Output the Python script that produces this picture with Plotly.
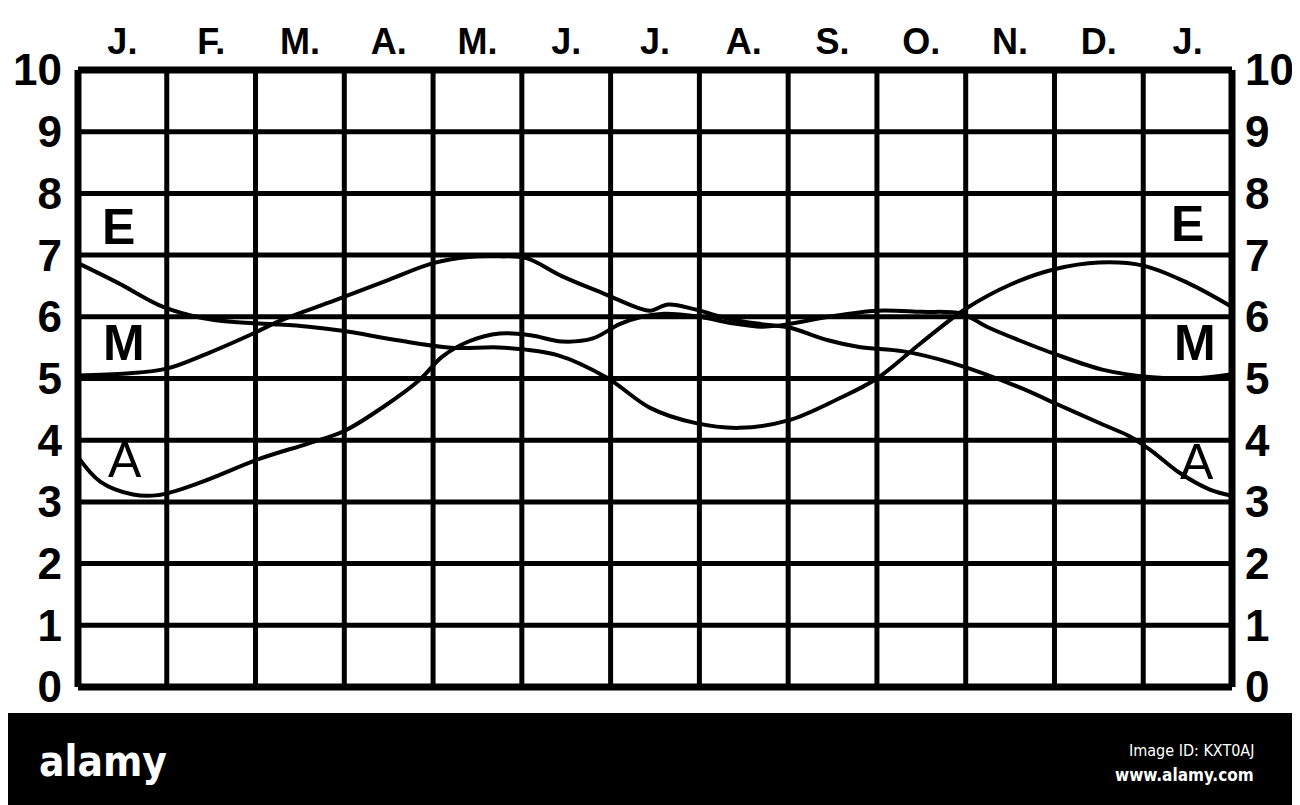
import plotly.graph_objects as go

# ---- data (x in month-columns from the left edge, y on the 0-10 scale) ----
months = ["J.", "F.", "M.", "A.", "M.", "J.", "J.", "A.", "S.", "O.", "N.", "D.", "J."]
month_pos = [i + 0.5 for i in range(len(months))]
y_ticks = list(range(0, 11))

e_x = [0, 0.45, 0.96, 1.4, 1.8, 2.2, 2.6, 3.0, 3.6, 4.2, 4.8, 5.4, 5.95, 6.45, 6.95, 7.45,
       8.0, 8.55, 9.0, 9.5, 10.0, 10.5, 11.0, 11.5, 12.0, 12.5, 13.0]
e_y = [6.87, 6.55, 6.16, 5.98, 5.91, 5.88, 5.84, 5.77, 5.62, 5.5, 5.5, 5.38, 5.02, 4.52, 4.28, 4.2,
       4.32, 4.66, 5.0, 5.58, 6.13, 6.52, 6.77, 6.88, 6.83, 6.55, 6.16]

m_x = [0, 0.55, 1.0, 1.45, 1.9, 2.3, 2.9, 3.5, 4.0, 4.4, 4.75, 5.05, 5.45, 5.95, 6.3, 6.45,
       6.65, 6.95, 7.35, 7.7, 8.0, 8.45, 8.8, 9.3, 9.85, 10.6, 11.05, 11.55, 11.85, 12.1,
       12.4, 12.75, 13.0]
m_y = [5.05, 5.08, 5.16, 5.4, 5.68, 5.95, 6.27, 6.6, 6.87, 6.97, 6.98, 6.95, 6.66, 6.36, 6.15, 6.1,
       6.2, 6.12, 5.96, 5.88, 5.83, 5.62, 5.51, 5.44, 5.25, 4.86, 4.57, 4.25, 4.06, 3.82,
       3.48, 3.2, 3.1]

a_x = [0, 0.25, 0.62, 0.9, 1.35, 2.05, 2.6, 3.0, 3.45, 3.85, 4.1, 4.4, 4.75, 5.1, 5.45, 5.8,
       6.1, 6.35, 6.6, 7.0, 7.35, 7.7, 8.0, 8.45, 9.0, 9.5, 9.95, 10.25, 10.6, 11.0, 11.55,
       12.1, 12.55, 13.0]
a_y = [3.73, 3.33, 3.12, 3.11, 3.3, 3.7, 3.95, 4.15, 4.55, 4.98, 5.35, 5.6, 5.73, 5.7, 5.6, 5.65,
       5.88, 6.0, 6.05, 6.0, 5.9, 5.84, 5.88, 6.0, 6.1, 6.08, 6.05, 5.83, 5.62, 5.4, 5.14,
       5.02, 5.0, 5.07]

curve_labels = ["E", "M", "A", "E", "M", "A"]
curve_label_x = [0.46, 0.52, 0.53, 12.5, 12.58, 12.6]
curve_label_y = [7.46, 5.58, 3.68, 7.5, 5.58, 3.64]

n_cols = 13
n_rows = 10

# ---- layout geometry (page has an 8px body margin, so figure is 8px smaller) ----
OFF = 8
W, H = 1300 - OFF, 805 - OFF
L, R, T, B = 62, 60, 54, 110
x_range = [-0.09, 13.09]
y_range = [-0.13, 10.13]

fig = go.Figure()

for xs, ys in [(e_x, e_y), (m_x, m_y), (a_x, a_y)]:
    fig.add_trace(go.Scatter(x=xs, y=ys, mode="lines",
                             line=dict(color="black", width=4, shape="spline", smoothing=1.0),
                             showlegend=False, hoverinfo="skip"))

# invisible trace to activate the right-hand axis
fig.add_trace(go.Scatter(x=[0], y=[0], yaxis="y2", mode="markers",
                         marker=dict(opacity=0), showlegend=False, hoverinfo="skip"))

shapes = []
for r in range(n_rows + 1):
    w = 7 if r in (0, n_rows) else 5
    shapes.append(dict(type="line", xref="x", yref="y", x0=0, x1=n_cols, y0=r, y1=r,
                       line=dict(color="black", width=w), layer="below"))
for c in range(n_cols + 1):
    w = 7 if c in (0, n_cols) else 5
    shapes.append(dict(type="line", xref="x", yref="y", x0=c, x1=c, y0=0, y1=n_rows,
                       line=dict(color="black", width=w), layer="below"))

plot_w = W - L - R
plot_h = H - T - B
def px_x(x):
    return (x - OFF - L) / plot_w
def px_y(y):
    return (H - B - (y - OFF)) / plot_h

# black footer band
shapes.append(dict(type="rect", xref="paper", yref="paper",
                   x0=px_x(0), x1=px_x(1310), y0=px_y(713), y1=px_y(812),
                   fillcolor="black", line=dict(width=0)))

annotations = []
for t, x, y in zip(curve_labels, curve_label_x, curve_label_y):
    annotations.append(dict(x=x, y=y, xref="x", yref="y", text=t, showarrow=False,
                            font=dict(family="Liberation Sans, Arial, sans-serif", size=50,
                                      color="black", weight="bold" if t != "A" else "normal"),
                            xanchor="center", yanchor="middle"))

narrow = "Liberation Sans Narrow, DejaVu Sans Condensed, Roboto, sans-serif"
annotations.append(dict(x=px_x(103), y=px_y(761), xref="paper", yref="paper", text="alamy",
                        showarrow=False, xanchor="center", yanchor="middle",
                        font=dict(family=narrow, size=42, color="white", weight="bold")))
annotations.append(dict(x=px_x(1256), y=px_y(750), xref="paper", yref="paper",
                        text="Image ID: KXT0AJ", showarrow=False, xanchor="right", yanchor="middle",
                        font=dict(family=narrow, size=16, color="white")))
annotations.append(dict(x=px_x(1256), y=px_y(775), xref="paper", yref="paper",
                        text="www.alamy.com", showarrow=False, xanchor="right", yanchor="middle",
                        font=dict(family=narrow, size=17, color="white", weight="bold")))

tick_font = "Liberation Sans, Arial, sans-serif"
fig.update_layout(
    width=W, height=H,
    margin=dict(l=L, r=R, t=T, b=B, pad=0, autoexpand=False),
    paper_bgcolor="white", plot_bgcolor="white",
    shapes=shapes, annotations=annotations,
    xaxis=dict(range=x_range, side="top", tickmode="array", tickvals=month_pos, ticktext=months,
               showgrid=False, zeroline=False, showline=False, ticks="", automargin=False,
               tickfont=dict(family=tick_font, size=36, color="black", weight="bold"),
               fixedrange=True),
    yaxis=dict(range=y_range, tickmode="array", tickvals=y_ticks,
               ticktext=[str(v) for v in y_ticks], automargin=False, ticklabelstandoff=7,
               showgrid=False, zeroline=False, showline=False, ticks="",
               tickfont=dict(family=tick_font, size=44, color="black", weight="bold"),
               fixedrange=True),
    yaxis2=dict(range=y_range, overlaying="y", side="right", tickmode="array", tickvals=y_ticks,
                ticktext=[str(v) for v in y_ticks], automargin=False, ticklabelstandoff=4,
                showgrid=False, zeroline=False, showline=False, ticks="",
                tickfont=dict(family=tick_font, size=44, color="black", weight="bold"),
                fixedrange=True),
    showlegend=False,
)

fig.write_html("out.html")
